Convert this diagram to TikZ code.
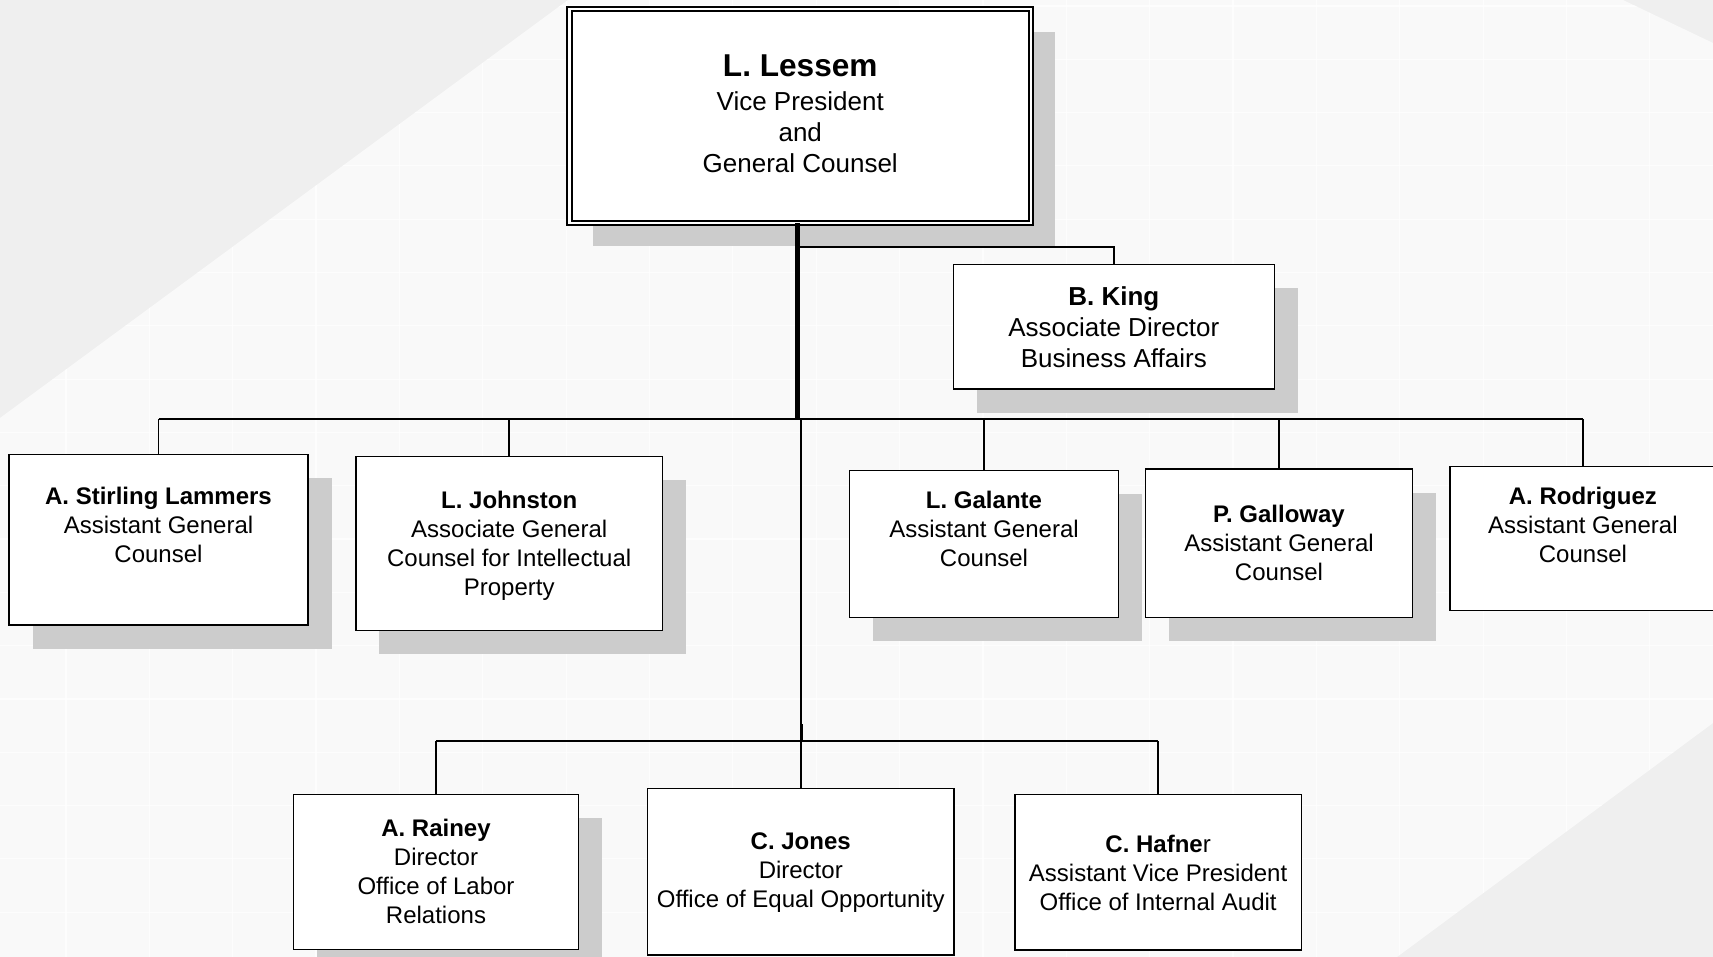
\documentclass[tikz,border=0pt]{standalone}
\usepackage{fontspec}
\setmainfont{Liberation Sans}
\usetikzlibrary{shadows}
\definecolor{bglight}{RGB}{249,249,249}
\definecolor{bgdark}{RGB}{239,239,239}
\definecolor{shadowgray}{RGB}{204,204,204}
\tikzset{
  orgbox/.style={draw=black, line width=0.75pt, fill=white, inner sep=0pt},
  shad/.style={general shadow={shadow xshift=11.75pt, shadow yshift=-11.75pt, fill=shadowgray}},
  conn/.style={line width=0.75pt},
  txt/.style={anchor=north, align=center, inner sep=0pt, font=\fontsize{12}{14.5}\selectfont},
  txtbig/.style={anchor=north, align=center, inner sep=0pt, font=\fontsize{13}{15.5}\selectfont},
}
\begin{document}
\begin{tikzpicture}[x=0.5pt,y=-0.5pt]
\useasboundingbox (0,0) rectangle (1713,957);
% background
\fill[bgdark] (0,0) rectangle (1713,957);
\fill[bglight] (568,0) -- (1623,0) -- (1713,43) -- (1713,723) -- (1397,957) -- (0,957) -- (0,418) -- cycle;
\begin{scope}
\clip (568,0) -- (1623,0) -- (1713,43) -- (1713,723) -- (1397,957) -- (0,957) -- (0,418) -- cycle;
\foreach \i in {0,...,20} \draw[white, opacity=0.7, line width=0.6pt] ({66+83.36*\i},0) -- ({66+83.36*\i},957);
\foreach \j in {0,...,17} \draw[white, opacity=0.7, line width=0.6pt] (0,{6+53.3*\j}) -- (1713,{6+53.3*\j});
\end{scope}

% boxes
\node[orgbox, shad, line width=0.9pt, double=white, double distance=1.3pt, minimum width=230.75pt, minimum height=107pt] (boss) at (800.25,116) {};
\node[orgbox, shad, minimum width=160.5pt, minimum height=62.35pt] (king) at (1113.8,326.7) {};
\node[orgbox, shad, minimum width=149.5pt, minimum height=85.35pt] (lammers) at (158.5,539.7) {};
\node[orgbox, shad, minimum width=153.35pt, minimum height=87pt] (johnston) at (509.2,543.7) {};
\node[orgbox, shad, minimum width=134.45pt, minimum height=73.3pt] (galante) at (984,544) {};
\node[orgbox, shad, minimum width=133.35pt, minimum height=74.15pt] (galloway) at (1279,543.2) {};
\node[orgbox, minimum width=133.15pt, minimum height=72pt] (rodriguez) at (1582.9,538.7) {};
\node[orgbox, shad, minimum width=142.65pt, minimum height=77.5pt] (rainey) at (436,871.8) {};
\node[orgbox, minimum width=153.05pt, minimum height=83.35pt] (jones) at (800.75,871.65) {};
\node[orgbox, minimum width=143.3pt, minimum height=77.85pt] (hafner) at (1158.1,872.15) {};

% texts
\node[txtbig] (bosst) at (800.25,54.3) {{\fontsize{15.8}{17}\selectfont\bfseries L. Lessem}\\[1.5pt]Vice President\\and\\General Counsel};
\node[txtbig] (kingt) at (1113.8,286.4) {\textbf{B. King}\\Associate Director\\Business Affairs};
\node[txt] (lammerst) at (158.5,486.8) {\textbf{A. Stirling Lammers}\\Assistant General\\Counsel};
\node[txt] (johnstont) at (509.2,491) {\textbf{L. Johnston}\\Associate General\\Counsel for Intellectual\\Property};
\node[txt] (galantet) at (984,491) {\textbf{L. Galante}\\Assistant General\\Counsel};
\node[txt] (gallowayt) at (1279,505) {\textbf{P. Galloway}\\Assistant General\\Counsel};
\node[txt] (rodriguezt) at (1582.9,487) {\textbf{A. Rodriguez}\\Assistant General\\Counsel};
\node[txt] (raineyt) at (436,819) {\textbf{A. Rainey}\\Director\\Office of Labor\\Relations};
\node[txt] (jonest) at (800.75,832) {\textbf{C. Jones}\\Director\\Office of Equal Opportunity};
\node[txt] (hafnert) at (1158.1,835) {\textbf{C. Hafne}r\\Assistant Vice President\\Office of Internal Audit};

% connectors
\coordinate (top) at (797.5,223);
\coordinate (kj) at (797.5,247);
\coordinate (bus) at (797.5,419);
\coordinate (bus2) at (800.75,741);
\draw[line width=2.6pt] (top) -- (bus);
\draw[conn] (kj) -| (king.north);
\draw[conn] (lammers.north |- bus) -- (rodriguez.north |- bus);
\foreach \n in {lammers,johnston,galante,galloway,rodriguez}
  \draw[conn] (\n.north) -- (\n.north |- bus);
\draw[conn] (jones.north |- bus) -- (jones.north);
\draw[line width=1.3pt] (801.5,724) -- (801.5,741);
\draw[conn] (rainey.north |- bus2) -- (hafner.north |- bus2);
\foreach \n in {rainey,hafner}
  \draw[conn] (\n.north) -- (\n.north |- bus2);
\end{tikzpicture}
\end{document}
